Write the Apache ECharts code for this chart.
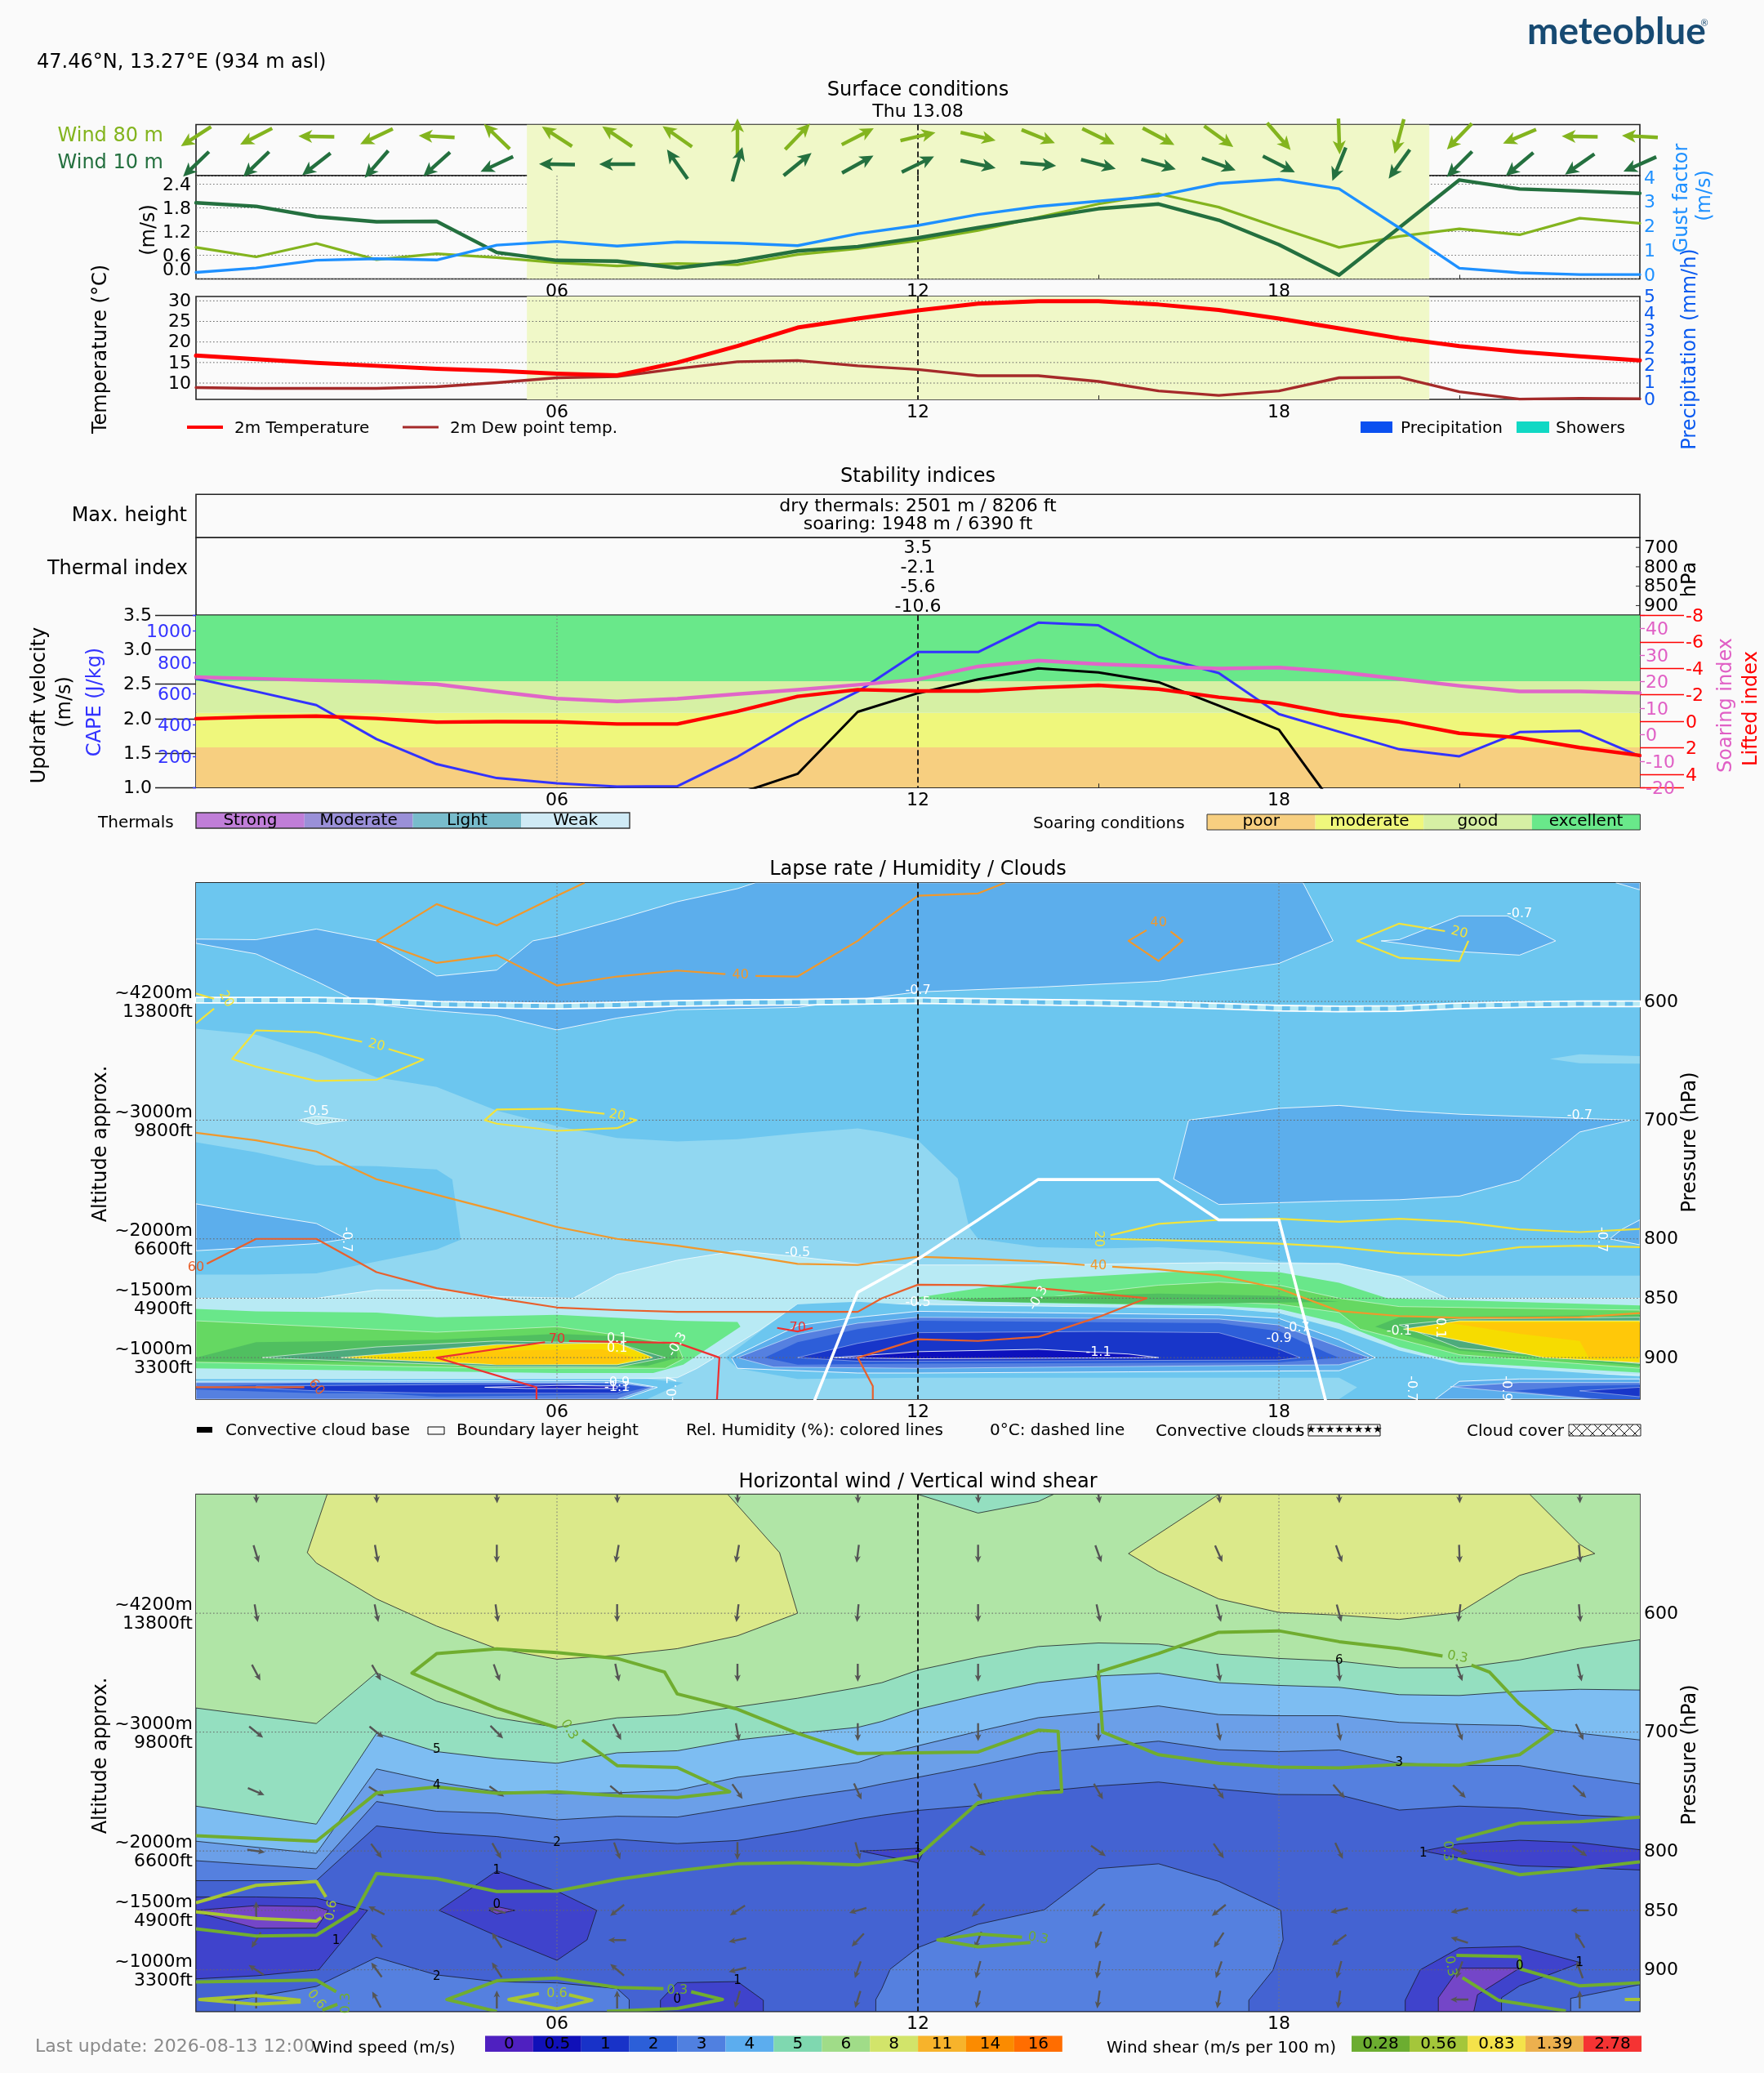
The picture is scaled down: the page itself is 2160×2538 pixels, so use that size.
<!DOCTYPE html>
<html><head><meta charset="utf-8">
<style>html,body{margin:0;padding:0;background:#fafafa}#c{width:2160px;height:2538px}</style>
<script src="https://cdn.jsdelivr.net/npm/echarts@6/dist/echarts.min.js"></script>
</head><body><div id="c"></div>
<script>
/* ---------- time-series data ---------- */
const hours=[0,1,2,3,4,5,6,7,8,9,10,11,12,13,14,15,16,17,18,19,20,21,22,23,24];
const wind80Dir=[237,243,271,245,273,314,303,304,305,0,44,63,77,103,112,116,118,126,139,178,195,224,247,271,273];
const wind10Dir=[226,226,232,221,228,245,271,270,325,16,51,61,64,102,95,105,106,110,117,202,216,225,230,235,246];
const wind10Speed=[1.93,1.84,1.58,1.45,1.46,.67,.47,.45,.28,.45,.71,.82,1.04,1.30,1.54,1.78,1.90,1.49,.87,.10,1.30,2.51,2.28,2.23,2.17];
const wind80Speed=[.80,.56,.90,.49,.64,.54,.41,.33,.39,.36,.62,.77,.97,1.23,1.56,1.90,2.16,1.82,1.30,.80,1.08,1.27,1.12,1.54,1.41];
const gustFactor=[.12,.30,.62,.68,.63,1.24,1.39,1.20,1.37,1.32,1.22,1.71,2.05,2.50,2.83,3.05,3.27,3.78,3.95,3.56,1.95,.29,.10,.03,.03];
const temperature=[16.7,15.8,14.9,14.2,13.5,13.0,12.3,11.9,15.0,19.0,23.5,25.7,27.7,29.3,29.9,29.9,29.1,27.8,25.7,23.3,20.9,19.0,17.6,16.5,15.5];
const dewPoint=[8.9,8.7,8.7,8.7,9.1,10.1,11.3,11.6,13.5,15.2,15.5,14.2,13.3,11.8,11.8,10.4,8.1,7.0,8.1,11.3,11.4,7.9,6.1,6.3,6.2];
const dayPeriod=[5.5,20.5];
const cape=[697,614,527,310,150,61,28,7,9,197,423,614,866,866,1054,1037,835,732,470,357,245,200,355,363,200];
const soaringIndex=[21.7,21.1,20.5,20,19,16.2,13.6,12.5,13.5,15.3,16.9,18.8,20.8,25.7,27.9,26.6,25.7,24.9,25.3,23.6,21,18.4,16.3,16.3,15.7];
const liftedIndex=[-.2,-.33,-.39,-.22,.06,.02,.04,.2,.2,-.76,-1.88,-2.39,-2.29,-2.29,-2.54,-2.72,-2.43,-1.82,-1.35,-.49,.04,.9,1.23,1.98,2.57];
const updraft=[null,null,null,null,null,null,null,null,.4,.91,1.2,2.1,2.37,2.57,2.73,2.67,2.53,2.19,1.84,.64,.3,null,null,null,null];
const soaringLimits=[1.0,1.584,2.086,2.544,3.5];
const thermalLevels=['900','850','800','700'];
const thermalIndex=['-10.6','-5.6','-2.1','3.5'];
const maxHeights=['dry thermals: 2501 m / 8206 ft','soaring: 1948 m / 6390 ft'];
const boundaryLayer=[null,null,null,null,null,null,null,null,null,null,972,845,817,784,750,750,750,784,784,980,null,null,null,null,null];
const zeroDegree=[599,599,599,600,602.3,603.3,604,603,601.7,601,600.7,600,599.3,600,600.7,601.3,602.3,604,605.7,606.4,606,603.7,602.7,602,602];

/* ---------- lapse-rate contour bands [hour, hPa] ---------- */
const fullPanel=[[0,500],[24,500],[24,935],[0,935]];
const lapseDarkTop=[[0,547.5],[1,548],[2,539],[3,549],[4,578.6],[5,573.6],[5.6,549],[6,545],[7,531],[8,516],[9,505],[9.3,500],[18.4,500],[18.9,549],[18,568],[16,583],[14,588],[12,592],[10,605],[8,607],[7,614],[6,624],[5,612],[4,608],[3,603],[2.6,598],[2,583],[1,560],[0,551]];
const lapseDarkNE=[[19.7,549],[21,558],[22,561],[22.6,549],[21.8,528],[21,528],[20,548]];
const lapseDarkCorner=[[23.6,500],[24,506],[24,500]];
const lapseDarkMid=[[16.5,700],[16.25,749.5],[17,771],[18,769.5],[19,768],[20,767],[21,764],[22,750.5],[23,710],[23.85,700],[21,695],[20,692],[19,687.6],[18,690]];
const lapseDarkEdge=[[23.7,792],[24,784],[24,805],[23.5,800]];
const lapseLight=[[0,623],[1,628],[2,644],[3,664],[4,672],[5,692],[6,705],[7,715],[8,718],[9,716],[10,711],[11,707],[11.4,710],[12,717],[12.66,749],[12.85,790],[13,800],[14,807],[15,808],[16,807],[17,810],[18,819],[19,821],[20,831],[21,831],[22,831],[23,831],[24,831],[24,935],[0,935]];
const lapseLightNE=[[22.5,648.5],[23,644.5],[24,646],[24,652.5],[23,652]];
const lapseIsland=[[0,718.7],[1,727],[2,738],[3,738.8],[4,741.5],[4.26,750],[4.4,800.6],[4,809],[3,819],[2,829],[1,830],[0,830]];
const lapseDarkWest=[[0,770.5],[1,779],[2,787],[2.5,800],[2,804],[1,807],[0,810]];
const lapsePatch=[[1.7,700],[2,703.7],[2.53,700],[2,696.5]];
const lapseLighter=[[0,850],[2,850],[3,843],[4,843],[5,848.6],[6.27,850],[7,830],[8,818],[9,810],[10,815],[11,821],[12,822],[14,822],[17,820],[18,820.6],[19,820.7],[20,831.7],[20.8,850],[24,850],[24,915],[21,910],[20,897.6],[19,877.6],[18,862.5],[17,859],[12,855],[10,855],[9.35,877.6],[8.33,909],[8,917],[7,918],[0,918]];
const lapseMedCore=[[8.8,900],[9.4,877],[10,855],[11,853],[12,856],[17,858.5],[18,862.5],[19,876],[20,894],[21,906],[24,916],[24,935],[19,935],[19.3,925],[19,917],[12,917],[10,918],[9,909]];
const lapseDarkCore=[[8.9,900],[10,873],[11,866],[12,861],[17,864],[18,867],[19,885],[19.6,900],[19,911],[12,913],[11,913],[9,909]];
const lapseDarkSE=[[20.6,935],[21,920],[22,918],[24,918],[24,935]];
const lapseMidSE=[[20.85,924.5],[22,921],[24,921],[24,935],[23.2,935]];
const lapseBlueSE=[[21.9,928],[23,924],[24,923],[24,935],[23.4,935]];
const lapseDeepSE=[[23,928],[24,925],[24,933]];
const lapseMidCore=[[9,900],[10,880.5],[11,871],[12,866],[17,867.5],[18,872.5],[19,891],[19.5,900],[19,906],[12,909],[9.6,908]];
const lapseBlueCore=[[9.45,900],[10,887],[11,876],[12,869],[17,871],[18,877.7],[18.8,896],[19,900],[18,904],[12,905],[10,906]];
const lapseDeepCore=[[10,900],[11,888],[12,879],[15,878],[17,879],[18,893],[18.35,900],[18,902],[12,903],[11,903]];
const lapseDeepestCore=[[10.6,900],[12,895],[14,893],[15.5,897],[16,900],[12,901]];
const lapseMedSW=[[0,918],[7.5,918],[8.1,921],[7.5,935],[0,935]];
const lapseDarkSW=[[0,920],[7,919.5],[7.67,925],[7.1,935],[0,935]];
const lapseMidSW=[[0,921],[7,921],[7.6,925],[7,935],[0,935]];
const lapseBlueSW=[[1,923],[2,921],[6,921.5],[7,922],[7.5,925],[7,931],[4,933],[3,930],[2,930],[0,927],[0,925]];
const lapseDeepSW=[[1,924],[6,922],[7.2,925],[7,930],[4,930],[2,928],[1,925.5]];
const lapseDeepestSW=[[4.8,925],[6,923.5],[7,924],[7,926],[5.5,926]];
const lapseG1West=[[0,859],[1,861],[3,862],[4,866],[6,864],[8,869],[9,870],[9.05,874],[8.1,906],[7.6,913],[6,913],[0,909]];
const lapseG1East=[[11.9,850],[14,834],[16,828.4],[17,826.4],[18,828],[19,837],[19.8,850],[24,856],[24,912.7],[21,904],[20,891],[19,871],[18,859],[17,856.5],[14,854],[12,850.5]];
const lapseG2West=[[0,869],[4,878.6],[6,874],[7,881],[8,889],[8.1,901],[7.8,909],[5,909],[0,904]];
const lapseG2East=[[14.2,849],[16,839],[17,836.4],[18,839],[19,850],[20,857],[24,860],[24,909],[21,897.6],[19.35,876],[19,862],[18,855],[17,853],[14,851]];
const lapseG3West=[[0,900],[1,887],[4,885],[6,880],[7,882],[8,890],[8,900],[7.5,907],[6,905],[0,903]];
const lapseG3Mid=[[12.3,851],[16,846],[18,848],[19,853],[16,855],[13,853]];
const lapseG3East=[[19.6,874],[20,866],[24,864],[24,907],[21,894]];
const lapseTealWest=[[1.1,900],[3,891],[5,886],[7,888],[7.8,900],[7,908],[5,907.6]];
const lapseTealEast=[[20,872.5],[21,867.5],[24,866],[24,905],[21,892]];
const lapseYellowWest=[[2.4,900],[5,889],[7,887.6],[7.6,900],[7,906],[5,906]];
const lapseYellowEast=[[20.07,876],[21,869],[24,869],[24,904.3],[22.4,900]];
const lapseOrangeWest=[[4,900],[5,894],[6.75,893],[7.3,900],[7,905],[5,906]];
const lapseOrangeEast=[[20.8,870.5],[24,870.5],[24,900],[23.15,900],[23,886],[22,880]];

/* humidity isolines [hour, hPa] */
const rh40a=[[3,549],[4,518],[5,536],[6,511],[6.46,500]];
const rh40b=[[3,549],[4,567.6],[5,561],[6,586.6],[7,579],[8,574],[8.8,577]];
const rh40c=[[9.3,578.5],[10,579],[11,549],[11.4,533],[12,511],[13,509],[13.45,500]];
const rh40d=[[15.8,540],[15.5,549],[16,566],[16.4,549],[16.2,541]];
const rh40e=[[0,710.7],[1,717],[2,726.4],[3,749.8],[4,762.9],[5,776],[6,790],[7,800],[8,805.7],[9,813],[10,821],[11,822],[12,815],[13,816.7],[14,819],[14.77,822]];
const rh40f=[[15.23,823.4],[16,825.7],[17,830.7],[18,841.8],[19,860.8],[20,865],[21,866.5],[22,866.5],[23,866],[24,862.5]];
const rh60a=[[.18,821],[1,800],[2,800],[3,828],[4,841.5],[5,850],[6,857.8],[7,860],[8,861.5],[10,861.5],[11,861.5],[11.4,850],[12,838.6],[13,839],[14,841.5],[15,846],[15.8,850],[15,865.8],[14,882.5],[13,886],[12,884.5],[11.4,894],[11,900],[11.25,924],[11.25,935]];
const rh60b=[[0,925],[1.8,925]];
const rh70a=[[5.8,887],[4,900],[5.66,925],[5.66,935]];
const rh70b=[[6.2,886],[8,887.6],[8.7,900],[8.66,935]];
const rh70c=[[9.66,875],[10,878],[10.25,875]];
const rh20a=[[0,593.3],[.3,597.7]];
const rh20b=[[.3,606],[0,618.4]];
const rh20c=[[2.76,634],[2,626],[1,624.4],[.6,648.5],[1,655],[2,667],[3,666],[3.78,649],[3.2,640]];
const rh20d=[[6.79,694.6],[6,690.3],[5,691],[4.8,700],[5,703],[6,709],[7,706.7],[7.32,700],[7.2,698.4]];
const rh20e=[[15.2,797],[16,787.3],[17,784],[18,783],[19,785.6],[20,783],[21,785.6],[22,792],[23,794.3],[24,791.6]];
const rh20f=[[15.2,800],[17,802.3],[18,804],[19,807],[20,812],[21,814],[22,807],[23,805.7],[24,807]];
const rh20g=[[20.76,540.8],[20,534.5],[19.3,549],[20,563.2],[21,566],[21.15,549]];
const lapseLabels=[[2,692.6,'-0.5',0],[2.5,800.6,'-0.7',-90],[10,811.7,'-0.5',0],[12,591,'-0.7',0],[22,526.4,'-0.7',0],[23,696.3,'-0.7',0],[12,854,'-0.5',0],[14,850,'-0.3',60],[23.37,800.6,'-0.7',-90],[20,877.6,'-0.1',0],[20.67,875,'0.1',-90],[18,884,'-0.9',0],[18.3,875,'-0.7',0],[15,896,'-1.1',0],[20.2,926,'-0.7',-90],[21.77,926,'-0.9',-90],[7,884,'0.1',0],[7,892,'0.1',0],[8,889,'-0.3',60],[7,921,'-0.9',0],[7,925.6,'-1.1',0],[7.93,926,'-0.7',90]];
const rhLabels=[[9.05,578,'40','rh40',0],[16,534,'40','rh40',0],[15,822.5,'40','rh40',0],[0,824,'60','rh60',0],[2,925,'60','rh60',-50],[6,885,'70','rh70',0],[10,875,'70','rh70',0],[.5,598,'20','rh20',-60],[3,637,'20','rh20',-15],[7,696,'20','rh20',-10],[21,542,'20','rh20',-15],[15,800,'20','rh20',-90]];

/* ---------- wind-speed contour bands [hour, hPa] ---------- */
const speedYellowA=[[2.18,500],[1.85,549],[2,557.7],[3,587.9],[4,610.8],[5,629.8],[6,638.7],[7,635.4],[8,629.8],[9,619],[10,600],[9.7,549],[8.84,500]];
const speedYellowB=[[17,500],[15.5,549.8],[16,564.9],[17,587.9],[18,599.3],[19,601.6],[20,605.2],[21,599.3],[22,568.2],[23,553.4],[23.25,549.8],[23,542],[22.17,500]];
const speedTealTop=[[12,500],[13,515.7],[14,506],[14.25,500]];
const speedTeal=[[0,679.7],[2,692.8],[3,650],[4,674],[5,688],[6,696],[7,688],[8,685.6],[9,678.7],[10,671.5],[11,662.6],[11.4,658.4],[12,647.9],[13,637],[14,628],[15,625],[16,626],[17,634.4],[18,638],[19,640.3],[20,645.9],[21,645.9],[22,639.3],[23,629.5],[24,622.3],[24,935],[0,935]];
const speedSky=[[0,762.3],[2,777.4],[3,701],[4,716.4],[5,722.3],[6,726.2],[7,717.4],[8,715.7],[9,706.6],[10,701],[11,696],[11.4,691],[12,680.7],[13,668.9],[14,658.4],[15,652.8],[16,650.5],[17,658.4],[18,660.7],[19,662.3],[20,668.5],[21,669.2],[22,665.6],[23,664],[24,664.6],[24,935],[0,935]];
const speedB3=[[0,791.8],[2,802],[3,731],[4,742],[5,750],[6,751.8],[7,751],[8,748.9],[9,738],[10,732],[11,725.6],[11.4,719],[12,711.5],[13,699.4],[14,687.9],[15,683],[16,678],[17,685.3],[18,686.2],[19,686.2],[20,691.8],[21,693.5],[22,694.4],[23,701],[24,706.6],[24,935],[0,935]];
const speedB2=[[0,808.2],[2,815],[3,758.4],[4,766.6],[5,768.2],[6,773.8],[7,770.8],[8,771.5],[9,763.3],[10,755],[11,747.9],[11.4,743.6],[12,738],[13,728.2],[14,717.4],[15,712.5],[16,707.6],[17,714.8],[18,716.4],[19,715],[20,726.2],[21,727.9],[22,728.2],[23,736.4],[24,743.6],[24,935],[0,935]];
const speedB1=[[0,825],[2,825],[3,779],[4,784.6],[5,787.9],[6,793.8],[7,790.2],[8,793.8],[9,791.2],[10,783],[11,773.1],[11.4,769.9],[12,765.9],[13,761.7],[14,750.2],[15,745.3],[16,742],[17,747.9],[18,752.5],[19,752.8],[20,765.6],[21,762.3],[22,764],[23,769.9],[24,772],[24,935],[0,935]];
const speedIsleSW=[[.65,935],[.65,925.6],[2,914],[3,889.5],[4,904.3],[5,910],[6,911],[7,915.8],[7.2,925],[7.2,935]];
const speedIsleS=[[11.3,935],[11.3,925],[11.4,915.8],[11.54,899.4],[12,881.3],[13,861.7],[14.1,849.5],[15,814.8],[16,810.8],[17,825.6],[18.03,849.9],[18.07,874.8],[17.9,900.4],[17.5,925.6],[17.5,935]];
const speedIsleSE=[[24,912.5],[22.85,924],[22.85,935],[24,935]];
const speedCalmA=[[0,838.7],[1,838.7],[2,839.7],[2.85,850],[2.04,900],[1,905],[0,907.6]];
const speedCalmB=[[4.04,850],[5,816.7],[6,833.8],[6.66,850],[6.5,874.8],[6,892],[5,871.5]];
const speedCalmC=[[7.72,935],[7.72,925.6],[8,910.8],[9,909.9],[9.43,925.6],[9.43,935]];
const speedCalmD=[[11.04,800],[11.4,799.4],[12,797.7],[12.1,800],[12,810]];
const speedCalmE=[[20.4,800],[21,794],[22,791],[23,793],[24,799],[24,816],[23,814],[22,812.5],[21,806]];
const speedCalmF=[[20.1,935],[20.1,925.6],[20.35,900],[21,881.6],[22,880.3],[23.02,894],[22,913.5],[21.7,923.5],[21.7,935]];
const speedZeroA=[[0,850],[1,846],[2,846.8],[2.2,850],[2,865],[1,865],[0,851.5]];
const speedZeroB=[[4.87,850],[5,846.8],[5.3,850],[5,853]];
const speedZeroC=[[20.65,935],[20.65,923.5],[21,898.6],[22,898.6],[21.3,921],[21.24,935]];
const speedLabels=[[4,715,'5'],[4,745,'4'],[6,793,'2'],[5,816.8,'1'],[5,845,'0'],[2.33,875.8,'1'],[4,906,'2'],[9,909,'1'],[8,925,'0'],[19,639.7,'6'],[20,725.6,'3'],[12,797.7,'1'],[20.4,802,'1'],[22,897,'0'],[23,894,'1']];

/* wind-shear isolines [hour, hPa] */
const shear03a=[[6,696.3],[5,679.9],[4,659.2],[3.59,650.3],[4,634],[5,630],[6,633.1],[7,638],[7.79,649.5],[8,667.9],[9,680.7],[10,701],[11,718],[11.4,717.7],[13,716.7],[14,698.4],[14.33,699.4],[14.39,750.2],[14,751.2],[13,759.4],[12,804.3],[11.4,809.2],[11,811.8],[10,809.9],[9,810.8],[8,816.7],[7,824],[6,833.8],[5,834.1],[4,823.3],[3,819],[2.66,850.2],[2,870.8],[1,871.5],[0,865.6]];
const shear03b=[[6.42,706.6],[7,728.2],[8,729.8],[8.87,750.2],[8,755],[7,753.5],[6,750.2],[5,751.5],[4,746.2],[3,751.2],[2,791.8],[0,787.2]];
const shear03c=[[20.72,636],[20,629.8],[19,623.9],[18,614.8],[17,616],[16,633.8],[15,649.5],[15.07,700],[16,719],[17,726.2],[18,729.5],[19,730.2],[20,727.2],[21,727.9],[22,719],[22.55,699.4],[22,676.4],[21.5,649.5],[21.2,643.6]];
const shear03d=[[20.95,790.5],[22,776.7],[23,775.4],[24,771.5]];
const shear03e=[[20.97,806.6],[22,820],[23,815],[24,809.2]];
const shear03f=[[13.73,872.5],[13,869.9],[12.33,874.8],[13,880.7],[13.87,877]];
const shear03g=[[20.95,887.9],[22,888.9],[22.02,899.4],[23,913.5],[24,910.8]];
const shear03h=[[21.05,906.6],[21.65,925.6],[22.77,934.5]];
const shear03i=[[0,910.2],[2,908.6],[2.33,918.4]];
const shear03j=[[2.1,934],[2.35,929]];
const shear03k=[[7.77,915.8],[7,914.8],[6,907],[5,909.2],[4.17,925],[5,935]];
const shear03l=[[8.23,918.4],[8.75,925],[8,932.5],[6.83,935]];
const shear06a=[[0,843.6],[1,828.9],[2,825.6],[2.16,838.7]];
const shear06b=[[0,851.2],[1,856.7],[2,859],[2.08,856]];
const shear06c=[[1.74,925.6],[1,921.7],[.06,925],[1,929],[1.74,927]];
const shear06d=[[5.7,920],[5.2,925],[6,932.8],[6.58,925.6],[6.2,921]];
const shear06e=[[23.75,925],[24,925]];
const shearLabels=[[6.2,698,'0.3',-60,'s03'],[20.97,637,'0.3',-10,'s03'],[8,917,'0.3',0,'s03'],[14,873.5,'0.3',-10,'s03'],[20.8,800,'0.3',-90,'s03'],[20.85,897,'0.3',-80,'s03'],[2.5,928,'0.3',90,'s03'],[2.25,850,'0.6',80,'s06'],[2,925,'0.6',-50,'s06'],[6,920,'0.6',0,'s06']];

/* horizontal wind direction per pressure level, hours 1,3,...,23 */
const quiverHours=[1,3,5,7,9,11,13,15,17,19,21,23];
const dir500=[178,178,178,178,178,178,178,172,172,178,178,178];
const dir550=[163,170,180,190,190,187,180,160,156,160,178,175];
const dir600=[170,168,172,180,187,185,180,168,165,165,187,175];
const dir650=[152,150,160,168,180,180,180,180,170,175,160,167];
const dir700=[129,129,135,153,170,180,180,180,170,170,160,155];
const dir750=[113,122,125,130,145,155,155,150,145,140,135,133];
const dir800=[98,143,150,160,180,165,120,125,145,155,110,125];
const dir850=[0,297,287,231,237,254,225,224,231,256,256,270];
const dir875=[211,321,327,270,258,223,202,199,213,233,288,328];
const dir900=[303,324,327,310,256,199,195,191,199,195,200,340];
const dir925=[0,332,0,0,196,197,192,188,190,188,270,0];
const quiverLevels=[[500,dir500],[550,dir550],[600,dir600],[650,dir650],[700,dir700],[750,dir750],[800,dir800],[850,dir850],[875,dir875],[900,dir900],[925,dir925]];

/* axis tick labels */
const hourLabels=[6,12,18];
const hourMinorTicks=[3,9,15,21];
const hourMinorTicksUpper=[15,21];
const windSpeedTicks=[[.6,'0.6'],[1.2,'1.2'],[1.8,'1.8'],[2.4,'2.4']];
const gustTicks=[[0,'0'],[1,'1'],[2,'2'],[3,'3'],[4,'4']];
const temperatureTicks=[[10,'10'],[15,'15'],[20,'20'],[25,'25'],[30,'30']];
const precipTicks=[[0,'0'],[.8333,'1'],[1.6667,'2'],[2.5,'2'],[3.3333,'3'],[4.1667,'4'],[5,'5']];
const updraftTicks=[[1,'1.0'],[1.5,'1.5'],[2,'2.0'],[2.5,'2.5'],[3,'3.0'],[3.5,'3.5']];
const capeTicks=[[200,'200'],[400,'400'],[600,'600'],[800,'800'],[1000,'1000']];
const soaringTicks=[[-20,'-20'],[-10,'-10'],[0,'0'],[10,'10'],[20,'20'],[30,'30'],[40,'40']];
const liftedTicks=[[-8,'-8'],[-6,'-6'],[-4,'-4'],[-2,'-2'],[0,'0'],[2,'2'],[4,'4']];
const pressureValues=[600,700,800,850,900];
const pressureTicks=[[600,'600'],[700,'700'],[800,'800'],[850,'850'],[900,'900']];
const altitudeTicks=[[600,'~4200m\n13800ft'],[700,'~3000m\n9800ft'],[800,'~2000m\n6600ft'],[850,'~1500m\n4900ft'],[900,'~1000m\n3300ft']];
const speedLegend=['0','0.5','1','2','3','4','5','6','8','11','14','16'];
const shearLegend=['0.28','0.56','0.83','1.39','2.78'];
const thermalClasses=['Strong','Moderate','Light','Weak'];
const soaringClasses=['poor','moderate','good','excellent'];

/* ---------- styles ---------- */
const FONT='"DejaVu Sans"';
const lapseBands=[
 [fullPanel,'medium'],
 [lapseLight,'light'],[lapseLightNE,'light'],[lapseIsland,'medium'],
 [lapseDarkTop,'dark'],[lapseDarkNE,'dark'],[lapseDarkCorner,'dark'],[lapseDarkMid,'dark'],[lapseDarkEdge,'dark'],[lapseDarkWest,'dark'],
 [lapsePatch,'lighter'],[lapseLighter,'lighter'],
 [lapseMedCore,'medium'],[lapseDarkCore,'dark'],[lapseDarkSE,'dark'],[lapseMidSE,'mid'],[lapseBlueSE,'blue'],[lapseDeepSE,'deep'],[lapseMidCore,'mid'],[lapseBlueCore,'blue'],[lapseDeepCore,'deep'],[lapseDeepestCore,'deepest'],
 [lapseMedSW,'medium'],[lapseDarkSW,'dark'],[lapseMidSW,'mid'],[lapseBlueSW,'blue'],[lapseDeepSW,'deep'],[lapseDeepestSW,'deepest'],
 [lapseG1West,'g1'],[lapseG1East,'g1'],[lapseG2West,'g2'],[lapseG2East,'g2'],[lapseG3West,'g3'],[lapseG3Mid,'g3'],[lapseG3East,'g3'],[lapseTealWest,'teal'],[lapseTealEast,'teal'],
 [lapseYellowWest,'yellow'],[lapseYellowEast,'yellow'],[lapseOrangeWest,'orange'],[lapseOrangeEast,'orange']
];
const lapseStyle={medium:['#6cc6ef',null],dark:['#5caeec','rgba(255,255,255,.85)'],light:['#91d7f1',null],lighter:['#b8eaf4','rgba(255,255,255,.7)'],
 g1:['#69e78a',null],g2:['#65d862','rgba(255,255,255,.5)'],g3:['#50bf60',null],teal:['#4dab7c','rgba(255,255,255,.6)'],yellow:['#f6dc00','rgba(255,255,255,.6)'],orange:['#ffc809',null],
 mid:['#5580e0','rgba(255,255,255,.5)'],blue:['#2d5ed9',null],deep:['#1836c9','rgba(255,255,255,.4)'],deepest:['#0d10bd','rgba(255,255,255,.85)']};
const speedBands=[
 [fullPanel,'green'],
 [speedYellowA,'yellow'],[speedYellowB,'yellow'],[speedTealTop,'teal'],[speedTeal,'teal'],[speedSky,'sky'],[speedB3,'b3'],[speedB2,'b2'],[speedB1,'b1'],
 [speedIsleSW,'b2'],[speedIsleS,'b2'],[speedIsleSE,'b2'],
 [speedCalmA,'calm'],[speedCalmB,'calm'],[speedCalmC,'calm'],[speedCalmD,'calm'],[speedCalmE,'calm'],[speedCalmF,'calm'],
 [speedZeroA,'zero'],[speedZeroB,'zero'],[speedZeroC,'zero']
];
const speedStyle={green:'#b0e5a6',yellow:'#dbe98a',teal:'#94dfc0',sky:'#7dbdf2',b3:'#6b9fe8',b2:'#5580df',b1:'#4463d2',calm:'#3f43cc',zero:'#7446c8'};
const rhLines=[[rh40a,'rh40'],[rh40b,'rh40'],[rh40c,'rh40'],[rh40d,'rh40'],[rh40e,'rh40'],[rh40f,'rh40'],[rh60a,'rh60'],[rh60b,'rh60'],[rh70a,'rh70'],[rh70b,'rh70'],[rh70c,'rh70'],[rh20a,'rh20'],[rh20b,'rh20'],[rh20c,'rh20'],[rh20d,'rh20'],[rh20e,'rh20'],[rh20f,'rh20'],[rh20g,'rh20']];
const shearLines=[[shear03a,'s03'],[shear03b,'s03'],[shear03c,'s03'],[shear03d,'s03'],[shear03e,'s03'],[shear03f,'s03'],[shear03g,'s03'],[shear03h,'s03'],[shear03i,'s03'],[shear03j,'s03'],[shear03k,'s03'],[shear03l,'s03'],[shear06a,'s06'],[shear06b,'s06'],[shear06c,'s06'],[shear06d,'s06'],[shear06e,'s06']];
const lineColor={rh20:'#f2e33c',rh40:'#f0982c',rh60:'#e8602c',rh70:'#ee3030',s03:'#70ad2f',s06:'#a6c633'};
const speedColors=['#4f20c0','#1010b8','#1832c8','#2c5fd8','#5080e0','#5cadee','#7fd8b0','#a0dc88','#d2e46a','#f7b32b','#fb8b00','#ff6d00'];
const shearColors=['#6cad30','#a4c63a','#f4e24a','#ecb04e','#f53333'];
const thermalColors=['#c07ed8','#9a90d8','#78bccc','#cfeaf5'];
const soaringColors=['#f7cf80','#eff77c','#d6f0a4','#69e88a'];

/* ---------- layout ---------- */
const L=240,W=1768,R=L+W;
const panels=[[152.5,215],[215,341.5],[363,489],[605.3,658.3],[658.3,753.3],[753.3,964.3],[1080.7,1713],[1829.6,2462.6]];
const grid=panels.map(p=>({left:L,width:W,top:p[0],height:p[1]-p[0],show:true,borderColor:'#222',borderWidth:1.6,backgroundColor:'transparent'}));
const labelled=[1,2,5,6,7];
const noLabel={show:false};
const xAxis=panels.map((p,i)=>({type:'value',gridIndex:i,min:0,max:24,splitLine:{show:false},axisLine:{show:false},
  axisTick:labelled.includes(i)?{show:true,inside:true,length:5,customValues:i>=6?hourMinorTicks:hourMinorTicksUpper,lineStyle:{color:'#222',width:1}}:{show:false},
  axisLabel:labelled.includes(i)?{show:true,customValues:hourLabels,margin:5,fontFamily:FONT,fontSize:22,color:'#000',formatter:v=>String(v).padStart(2,'0')}:{show:false}}));
const plain={axisLine:{show:false},axisTick:{show:false},splitLine:{show:false},axisLabel:noLabel};
const yAxis=[
 {gridIndex:0,type:'value',min:-.41,max:1.43,show:false},
 Object.assign({},plain,{gridIndex:1,type:'value',position:'left',min:0,max:2.62,interval:.6,splitLine:{show:true,lineStyle:{type:[1.6,2.6],color:'#777',width:1}}}),
 Object.assign({},plain,{gridIndex:1,type:'value',position:'right',min:-.15,max:4.1}),
 Object.assign({},plain,{gridIndex:2,type:'value',position:'left',min:6.03,max:31.06}),
 Object.assign({},plain,{gridIndex:2,type:'value',position:'right',min:0,max:5}),
 {gridIndex:3,type:'value',min:0,max:1,show:false},
 Object.assign({},plain,{gridIndex:4,type:'category',position:'right',data:thermalLevels}),
 Object.assign({},plain,{gridIndex:5,type:'value',position:'left',min:1,max:3.5,interval:.5,axisTick:{show:true,length:50,lineStyle:{color:'#222',width:1.4}}}),
 Object.assign({},plain,{gridIndex:5,type:'value',position:'left',min:0,max:1101,interval:200,axisTick:{show:true,length:4,lineStyle:{color:'#3333ff',width:1.4}}}),
 Object.assign({},plain,{gridIndex:5,type:'value',position:'right',min:-20,max:45,interval:10,axisTick:{show:true,length:6,lineStyle:{color:'#e05fc5',width:1.4}}}),
 Object.assign({},plain,{gridIndex:5,type:'value',position:'right',inverse:true,min:-8,max:5,interval:2,axisTick:{show:true,length:54,lineStyle:{color:'#f00',width:1.4}}}),
 Object.assign({},plain,{gridIndex:6,type:'value',position:'left',inverse:true,min:500,max:935}),
 Object.assign({},plain,{gridIndex:6,type:'value',position:'right',inverse:true,min:500,max:935}),
 Object.assign({},plain,{gridIndex:7,type:'value',position:'left',inverse:true,min:500,max:935}),
 Object.assign({},plain,{gridIndex:7,type:'value',position:'right',inverse:true,min:500,max:935})
];

/* ---------- series helpers ---------- */
function custom(g,y,items,make,z,clip){
  return {type:'custom',coordinateSystem:'cartesian2d',xAxisIndex:g,yAxisIndex:y,z:z,clip:clip!==false,silent:true,
    data:items.map((_,i)=>[0,i]),encode:{x:0,y:1},
    renderItem:(p,api)=>make(items[api.value(1)],api,p)};
}
/* axis tick labels placed through the axis scale */
function axisText(g,y,ticks,side,margin,color,dy,lh){
  return custom(g,y,ticks,(t,api,p)=>{const yy=api.coord([0,t[0]])[1];const cs=p.coordSys;
    return {type:'text',x:side==='left'?cs.x-margin:cs.x+cs.width+margin,y:yy+(dy||2),
      style:{text:t[1],fill:color,font:'22px '+FONT,align:side==='left'?'right':'left',verticalAlign:'middle',lineHeight:lh}};},12,false);
}
function poly(points,api){return points.map(q=>api.coord(q));}
function polygons(g,y,items,styleOf,z){
  return custom(g,y,items,(it,api)=>{const s=styleOf(it[1]);
    return {type:'polygon',shape:{points:poly(it[0],api)},style:{fill:s[0],stroke:s[1]||'none',lineWidth:s[1]?1:0}};},z);
}
function polylines(g,y,items,width,z){
  return custom(g,y,items,(it,api)=>({type:'polyline',shape:{points:poly(it[0],api)},
    style:{fill:'none',stroke:lineColor[it[1]],lineWidth:width(it[1]),lineJoin:'round'}}),z);
}
function labels(g,y,items,z,size,colorOf,rotOf){
  return custom(g,y,items,(it,api)=>{const c=api.coord([it[0],it[1]]);
    return {type:'text',x:c[0],y:c[1],rotation:(rotOf?rotOf(it):0)*Math.PI/180,
      style:{text:it[2],fill:colorOf(it),font:size+'px '+FONT,align:'center',verticalAlign:'middle'}};},z,false);
}
function vlines(g,y,items,style,z){
  return custom(g,y,items,(h,api,p)=>{const x=api.coord([h,y>=11?500:0])[0];const cs=p.coordSys;
    return {type:'line',shape:{x1:x,y1:cs.y,x2:x,y2:cs.y+cs.height},style:style};},z,false);
}
function hlines(g,y,items,z){
  return custom(g,y,items,(v,api,p)=>{const yy=api.coord([0,v])[1];const cs=p.coordSys;
    return {type:'line',shape:{x1:cs.x,y1:yy,x2:cs.x+cs.width,y2:yy},style:{stroke:'#666',lineWidth:1,lineDash:[1.6,2.6]}};},z,false);
}
function dayBand(g,y){
  return custom(g,y,[dayPeriod],(d,api,p)=>{const a=api.coord([d[0],10]),b=api.coord([d[1],10]);const cs=p.coordSys;
    return {type:'rect',shape:{x:a[0],y:cs.y,width:b[0]-a[0],height:cs.height},style:{fill:'#f0f8c8'}};},0);
}
function arrow(cx,cy,deg,len,sw,hl,hw,color){
  const t=deg*Math.PI/180,ux=Math.sin(t),uy=-Math.cos(t),vx=-uy,vy=ux;
  const P=(a,b)=>[cx+ux*a+vx*b,cy+uy*a+vy*b];
  const e=len/2;
  return {type:'polygon',shape:{points:[P(-e,-sw),P(e-hl*.8,-sw),P(e-hl,-hw),P(e,0),P(e-hl,hw),P(e-hl*.8,sw),P(-e,sw)]},style:{fill:color}};
}
const line=(x,y,d,color,w,z,extra)=>Object.assign({type:'line',xAxisIndex:x,yAxisIndex:y,data:d.map((v,i)=>[hours[i],v]),showSymbol:false,symbol:'none',
  lineStyle:{color:color,width:w,join:'round',cap:'round'},itemStyle:{color:color},z:z||5,silent:true},extra||{});

const surfaceArrows=[].concat(
  wind80Dir.map((d,i)=>[hours[i],1,d,'#83b41e']),
  wind10Dir.map((d,i)=>[hours[i],0,d,'#24703f']));
const upperArrows=[];
quiverLevels.forEach(l=>l[1].forEach((d,i)=>upperArrows.push([quiverHours[i],l[0],d])));

const dash12={stroke:'#111',lineWidth:1.8,lineDash:[7,4]};
const dot={stroke:'#777',lineWidth:1,lineDash:[1.6,2.6]};
const soaringBands=soaringColors.map((c,i)=>[soaringLimits[i],soaringLimits[i+1],c]);

const series=[
 dayBand(0,0),dayBand(1,1),dayBand(2,3),
 vlines(0,0,[12],dash12,3),
 vlines(1,1,[6],dot,3),vlines(1,1,[12],dash12,3),
 vlines(2,3,[6],dot,3),vlines(2,3,[12],dash12,3),
 hlines(2,3,[10,15,20,25,30],2),
 custom(0,0,surfaceArrows,(a,api)=>{const c=api.coord([a[0],a[1]]);return arrow(c[0],c[1],a[2],44,2.2,17,8,a[3]);},6,false),
 line(1,1,wind80Speed,'#83b41e',3.2),
 line(1,1,wind10Speed,'#24703f',4.4),
 line(1,2,gustFactor,'#1e90ff',3.4),
 line(2,3,dewPoint,'#a52a2a',3.4),
 line(2,3,temperature,'#ff0000',5),
 axisText(1,1,windSpeedTicks,'left',6,'#000',2),
 axisText(1,2,gustTicks,'right',5,'#1e90ff',1),
 axisText(2,3,temperatureTicks,'left',6,'#000',1),
 axisText(2,4,precipTicks,'right',5,'#0a5af0',1),
 custom(4,6,thermalIndex,(t,api)=>{const c=api.coord([12,thermalIndex.indexOf(t)]);
   return {type:'text',x:c[0],y:c[1]+1.5,style:{text:t,fill:'#000',font:'22px '+FONT,align:'center',verticalAlign:'middle'}};},5,false),
 custom(4,6,thermalLevels,(t,api,p)=>{const c=api.coord([24,thermalLevels.indexOf(t)]);
   return {type:'line',shape:{x1:c[0]-5,y1:c[1],x2:c[0],y2:c[1]},style:{stroke:'#222',lineWidth:1}};},5,false),
 custom(4,6,thermalLevels,(t,api,p)=>{const c=api.coord([24,thermalLevels.indexOf(t)]);
   return {type:'text',x:c[0]+5,y:c[1]+1,style:{text:t,fill:'#000',font:'22px '+FONT,align:'left',verticalAlign:'middle'}};},12,false),
 custom(5,7,soaringBands,(b,api)=>{const a=api.coord([0,b[0]]),c=api.coord([24,b[1]]);
   return {type:'rect',shape:{x:a[0],y:c[1],width:c[0]-a[0],height:a[1]-c[1]},style:{fill:b[2]}};},0),
 vlines(5,7,[6],dot,3),vlines(5,7,[12],dash12,3),
 line(5,7,updraft,'#000',3),
 line(5,8,cape,'#3333ff',3),
 line(5,9,soaringIndex,'#e066c8',4.4),
 line(5,10,liftedIndex,'#ff0000',4.4),
 axisText(5,7,updraftTicks,'left',54,'#000',1),
 axisText(5,8,capeTicks,'left',5,'#3333ff',2),
 axisText(5,9,soaringTicks,'right',7,'#e05fc5',2),
 axisText(5,10,liftedTicks,'right',56,'#f00',2),
 polygons(6,11,lapseBands,k=>lapseStyle[k],1),
 hlines(6,11,pressureValues,3),
 vlines(6,11,[6,18],dot,3),
 line(6,11,zeroDegree,'#ffffff',8.5,4),
 line(6,11,zeroDegree,'#b8eaf4',5,4,{lineStyle:{color:'#b8eaf4',width:5,type:[10,10]}}),
 line(6,11,zeroDegree,'#62bcea',5,4,{lineStyle:{color:'#62bcea',width:5,type:[10,10],dashOffset:10}}),
 polylines(6,11,rhLines,k=>2.2,5),
 line(6,11,boundaryLayer,'#ffffff',3.6,6),
 vlines(6,11,[12],dash12,7),
 labels(6,11,lapseLabels,8,16,()=>'#fff',it=>it[3]),
 labels(6,11,rhLabels,8,16,it=>lineColor[it[3]],it=>it[4]),
 axisText(6,11,altitudeTicks,'left',4,'#000',2,23),
 axisText(6,12,pressureTicks,'right',5,'#000',1),
 polygons(7,13,speedBands,k=>[speedStyle[k],k==='green'?null:'rgba(20,20,30,.75)'],1),
 hlines(7,13,pressureValues,3),
 vlines(7,13,[6,18],dot,3),
 custom(7,13,upperArrows,(a,api)=>{const c=api.coord([a[0],a[1]]);return arrow(c[0],c[1],a[2],22,1.2,8.5,3.9,'#555');},4),
 polylines(7,13,shearLines,k=>4,5),
 vlines(7,13,[12],dash12,7),
 labels(7,13,speedLabels,8,15,()=>'#000'),
 labels(7,13,shearLabels,8,16,it=>lineColor[it[4]],it=>it[3]),
 axisText(7,13,altitudeTicks,'left',4,'#000',2,23),
 axisText(7,14,pressureTicks,'right',5,'#000',1)
];

/* ---------- page text & legends ---------- */
const g=[];
const T=(x,y,text,o)=>{o=o||{};g.push({type:'text',x:x,y:y+1.5,rotation:o.rot||0,z:20,silent:true,
  style:{text:text,fill:o.color||'#000',font:(o.weight?o.weight+' ':'')+(o.size||22)+'px '+(o.family||FONT),align:o.align||'left',verticalAlign:'middle'}});};
const Box=(x,y,w,h,fill,stroke,lw)=>g.push({type:'rect',z:19,silent:true,shape:{x:x,y:y,width:w,height:h},style:{fill:fill,stroke:stroke||'none',lineWidth:lw||0}});
const UP=Math.PI/2, LBL=24, LEG=20;
T(1870,38,'meteoblue',{size:46,family:'Lato',weight:'bold',color:'#174a72'});
T(2087,27,'®',{size:11,family:'Lato',color:'#174a72',align:'center'});
T(45,75,'47.46°N, 13.27°E (934 m asl)',{size:LBL});
T(1124,109.5,'Surface conditions',{size:LBL,align:'center'});
T(1124,136,'Thu 13.08',{size:22,align:'center'});
T(200,165.5,'Wind 80 m',{size:LBL,align:'right',color:'#83b41e'});
T(200,198,'Wind 10 m',{size:LBL,align:'right',color:'#24703f'});
T(183,280,'(m/s)',{size:LBL,rot:UP,align:'center'});
T(124,426,'Temperature (°C)',{size:LBL,rot:UP,align:'center'});
T(2060,241,'Gust factor',{size:LBL,rot:UP,align:'center',color:'#1e90ff'});
T(2088,238,'(m/s)',{size:LBL,rot:UP,align:'center',color:'#1e90ff'});
T(2070,426,'Precipitation (mm/h)',{size:LBL,rot:UP,align:'center',color:'#0a5af0'});
T(234,330,'0.0',{size:22,align:'right'});
g.push({type:'line',z:19,silent:true,shape:{x1:229,y1:523,x2:273,y2:523},style:{stroke:'#ff0000',lineWidth:4}});
T(287,523,'2m Temperature',{size:LEG});
g.push({type:'line',z:19,silent:true,shape:{x1:493,y1:523,x2:537,y2:523},style:{stroke:'#a52a2a',lineWidth:3}});
T(551,523,'2m Dew point temp.',{size:LEG});
Box(1666,516,39,14,'#0a50f0');T(1715,523,'Precipitation',{size:LEG});
Box(1857,516,40,14,'#10d8c4');T(1905,523,'Showers',{size:LEG});
T(1124,582,'Stability indices',{size:LBL,align:'center'});
T(229,630,'Max. height',{size:LBL,align:'right'});
T(230,695,'Thermal index',{size:LBL,align:'right'});
T(1124,619,maxHeights[0],{size:22,align:'center'});
T(1124,641,maxHeights[1],{size:22,align:'center'});
T(2070,708,'hPa',{size:LBL,rot:UP,align:'center'});
T(49,862,'Updraft velocity',{size:LBL,rot:UP,align:'center'});
T(80,858,'(m/s)',{size:LBL,rot:UP,align:'center'});
T(117,858,'CAPE (J/kg)',{size:LBL,rot:UP,align:'center',color:'#3333ff'});
T(2114,862,'Soaring index',{size:LBL,rot:UP,align:'center',color:'#e05fc5'});
T(2145,866,'Lifted index',{size:LBL,rot:UP,align:'center',color:'#f00'});
T(120,1006,'Thermals',{size:LEG});
thermalClasses.forEach((n,i)=>{Box(240+i*132.75,995,132.75,19,thermalColors[i]);T(240+(i+.5)*132.75,1003.5,n,{size:LEG,align:'center'});});
g.push({type:'rect',z:19,silent:true,shape:{x:240,y:995,width:531,height:19},style:{fill:'none',stroke:'#333',lineWidth:1.4}});
T(1265,1007,'Soaring conditions',{size:LEG});
soaringClasses.forEach((n,i)=>{Box(1478+i*132.6,997,132.6,19,soaringColors[i]);T(1478+(i+.5)*132.6,1004.5,n,{size:LEG,align:'center'});});
g.push({type:'rect',z:19,silent:true,shape:{x:1478,y:997,width:530.4,height:19},style:{fill:'none',stroke:'#333',lineWidth:1}});
T(1124,1063,'Lapse rate / Humidity / Clouds',{size:LBL,align:'center'});
T(124,1399,'Altitude approx.',{size:LBL,rot:UP,align:'center'});
T(2070,1397,'Pressure (hPa)',{size:LBL,rot:UP,align:'center'});
Box(241,1747,19,7,'#000');
T(276,1750,'Convective cloud base',{size:LEG});
Box(524,1747,20,9,'#fafafa','#000',1);
T(559,1750,'Boundary layer height',{size:LEG});
T(840,1750,'Rel. Humidity (%): colored lines',{size:LEG});
T(1212,1750,'0°C: dashed line',{size:LEG});
T(1415,1751,'Convective clouds',{size:LEG});
Box(1602,1744,88,14,'#fafafa','#111',1);
T(1646,1749.5,'★★★★★★★★',{size:13,align:'center'});
T(1796,1751,'Cloud cover',{size:LEG});
const hatch=document.createElement('canvas');hatch.width=hatch.height=13;
{const c=hatch.getContext('2d');c.fillStyle='#fafafa';c.fillRect(0,0,13,13);c.strokeStyle='#111';c.lineWidth=1;c.beginPath();c.moveTo(0,0);c.lineTo(13,13);c.moveTo(13,0);c.lineTo(0,13);c.stroke();}
g.push({type:'rect',z:19,silent:true,shape:{x:1921,y:1744,width:88,height:14},style:{fill:{image:hatch,repeat:'repeat'},stroke:'#222',lineWidth:1}});
T(1124,1813,'Horizontal wind / Vertical wind shear',{size:LBL,align:'center'});
T(124,2148,'Altitude approx.',{size:LBL,rot:UP,align:'center'});
T(2070,2147,'Pressure (hPa)',{size:LBL,rot:UP,align:'center'});
T(43,2505,'Last update: 2026-08-13 12:00',{size:22,color:'#8a8a8a'});
T(382,2506,'Wind speed (m/s)',{size:LEG});
speedLegend.forEach((n,i)=>{Box(594+i*58.9,2492.6,58.9,19.4,speedColors[i]);T(594+(i+.5)*58.9,2501.5,n,{size:LEG,align:'center'});});
T(1355,2506,'Wind shear (m/s per 100 m)',{size:LEG});
shearLegend.forEach((n,i)=>{Box(1655+i*71,2492.6,71,19.4,shearColors[i]);T(1655+(i+.5)*71,2501.5,n,{size:LEG,align:'center'});});

const chart=echarts.init(document.getElementById('c'),null,{renderer:'canvas',width:2160,height:2538});
chart.setOption({animation:false,backgroundColor:'#fafafa',tooltip:{show:false},grid:grid,xAxis:xAxis,yAxis:yAxis,series:series,graphic:{elements:g}});
</script></body></html>
